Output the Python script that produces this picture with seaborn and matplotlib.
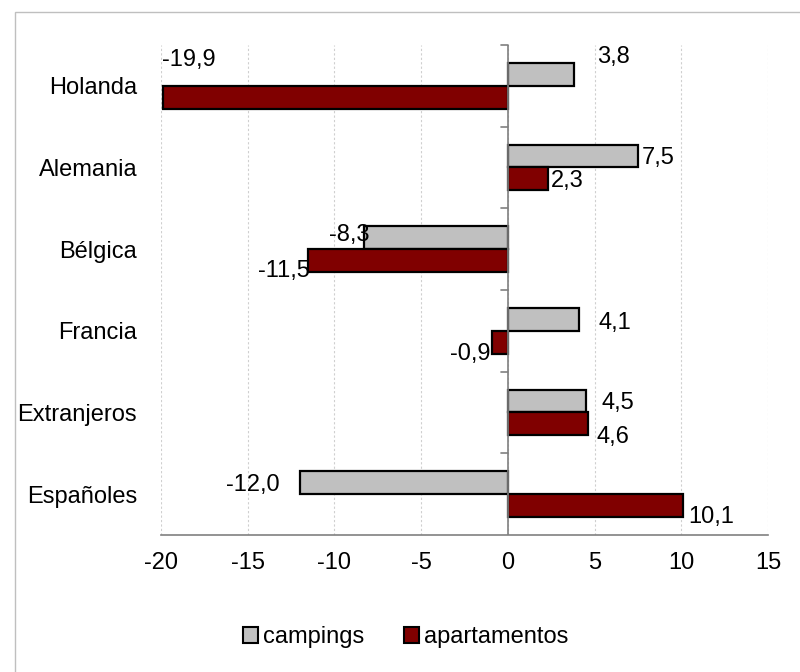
import pandas as pd
import matplotlib.pyplot as plt
import seaborn as sns
from matplotlib.patches import Rectangle, Patch

# Datos (variación %)
regiones = ['Holanda', 'Alemania', 'Bélgica', 'Francia', 'Extranjeros', 'Españoles']
campings = [3.8, 7.5, -8.3, 4.1, 4.5, -12.0]
apartamentos = [-19.9, 2.3, -11.5, -0.9, 4.6, 10.1]
series = ['campings', 'apartamentos']
colores = ['#C0C0C0', '#800000']
ticks_x = [-20, -15, -10, -5, 0, 5, 10, 15]

# posición de las etiquetas: desplazamiento en píxeles (dx, dy) y alineación
off_camp = [(23, 17), (4, -2), (6, 3), (20, -4), (16, -2), (-20, -2)]
off_apart = [(-1, 37), (3, -2), (2, -10), (-2, -12), (9, -13), (5, -11)]
ha_camp = ['left', 'left', 'right', 'left', 'left', 'right']
ha_apart = ['left', 'left', 'right', 'right', 'left', 'left']

df = pd.DataFrame({
    'region': regiones * 2,
    'valor': campings + apartamentos,
    'tipo': [series[0]] * len(regiones) + [series[1]] * len(regiones),
})

sns.set_style('white')
plt.rcParams['font.family'] = ['Liberation Sans', 'DejaVu Sans']
plt.rcParams['axes.unicode_minus'] = False
plt.rcParams['text.color'] = 'black'
plt.rcParams['xtick.color'] = 'black'
plt.rcParams['ytick.color'] = 'black'

fs = 17

fig = plt.figure(figsize=(8, 6.72), dpi=100)
ax = fig.add_axes([0.201, 0.204, 0.759, 0.729])

sns.barplot(data=df, y='region', x='valor', hue='tipo', hue_order=series,
            order=regiones, orient='h', palette=colores, saturation=1,
            edgecolor='black', linewidth=1.6, width=0.56, legend=False,
            ax=ax, zorder=3)

ax.set_xlim(-20, 15)
ax.set_ylim(len(regiones) - 0.5, -0.5)
ax.set_xticks(ticks_x)
ax.set_xticklabels([str(t) for t in ticks_x])
ax.set_xlabel('')
ax.set_ylabel('')
ax.tick_params(axis='x', labelsize=fs, length=6, width=1, color='#808080',
               labelcolor='black', direction='out', pad=6)
ax.tick_params(axis='y', labelsize=fs, length=0, pad=17, labelcolor='black')
ax.xaxis.grid(True, color='#CFCFCF', linestyle=(0, (2, 2)), linewidth=0.8)
ax.set_axisbelow(True)
for s in ['top', 'right', 'left']:
    ax.spines[s].set_visible(False)
ax.spines['bottom'].set_color('#808080')
ax.spines['bottom'].set_linewidth(1.2)

# eje del cero con marcas entre categorías
ax.axvline(0, color='#808080', linewidth=1.2, zorder=4)
for i in range(len(regiones)):
    ax.plot([-0.4, 0], [i - 0.5, i - 0.5], color='#808080', linewidth=1.2,
            zorder=4, clip_on=False)

# etiquetas de datos
def etiqueta(v):
    return f'{v:.1f}'.replace('.', ',')

for cont, offs, has, vals in zip(ax.containers, [off_camp, off_apart],
                                 [ha_camp, ha_apart], [campings, apartamentos]):
    for bar, (dx, dy), ha, v in zip(cont, offs, has, vals):
        y = bar.get_y() + bar.get_height() / 2
        ax.annotate(etiqueta(v), (v, y), xytext=(dx, dy), textcoords='offset pixels',
                    ha=ha, va='center', fontsize=fs, color='black')

# leyenda
handles = [Patch(facecolor=c, edgecolor='black', linewidth=1.5) for c in colores]
fig.legend(handles, series, loc='center', bbox_to_anchor=(0.507, 0.052), ncol=2,
           frameon=False, fontsize=fs, handlelength=0.65, handleheight=0.65,
           handletextpad=0.2, columnspacing=1.7)

# marco exterior
fig.patches.append(Rectangle((15 / 800, -0.1), 1.2, 1.1 - 12 / 672,
                             transform=fig.transFigure, fill=False,
                             edgecolor='#BFBFBF', linewidth=1))

fig.savefig('out.png', dpi=100)
